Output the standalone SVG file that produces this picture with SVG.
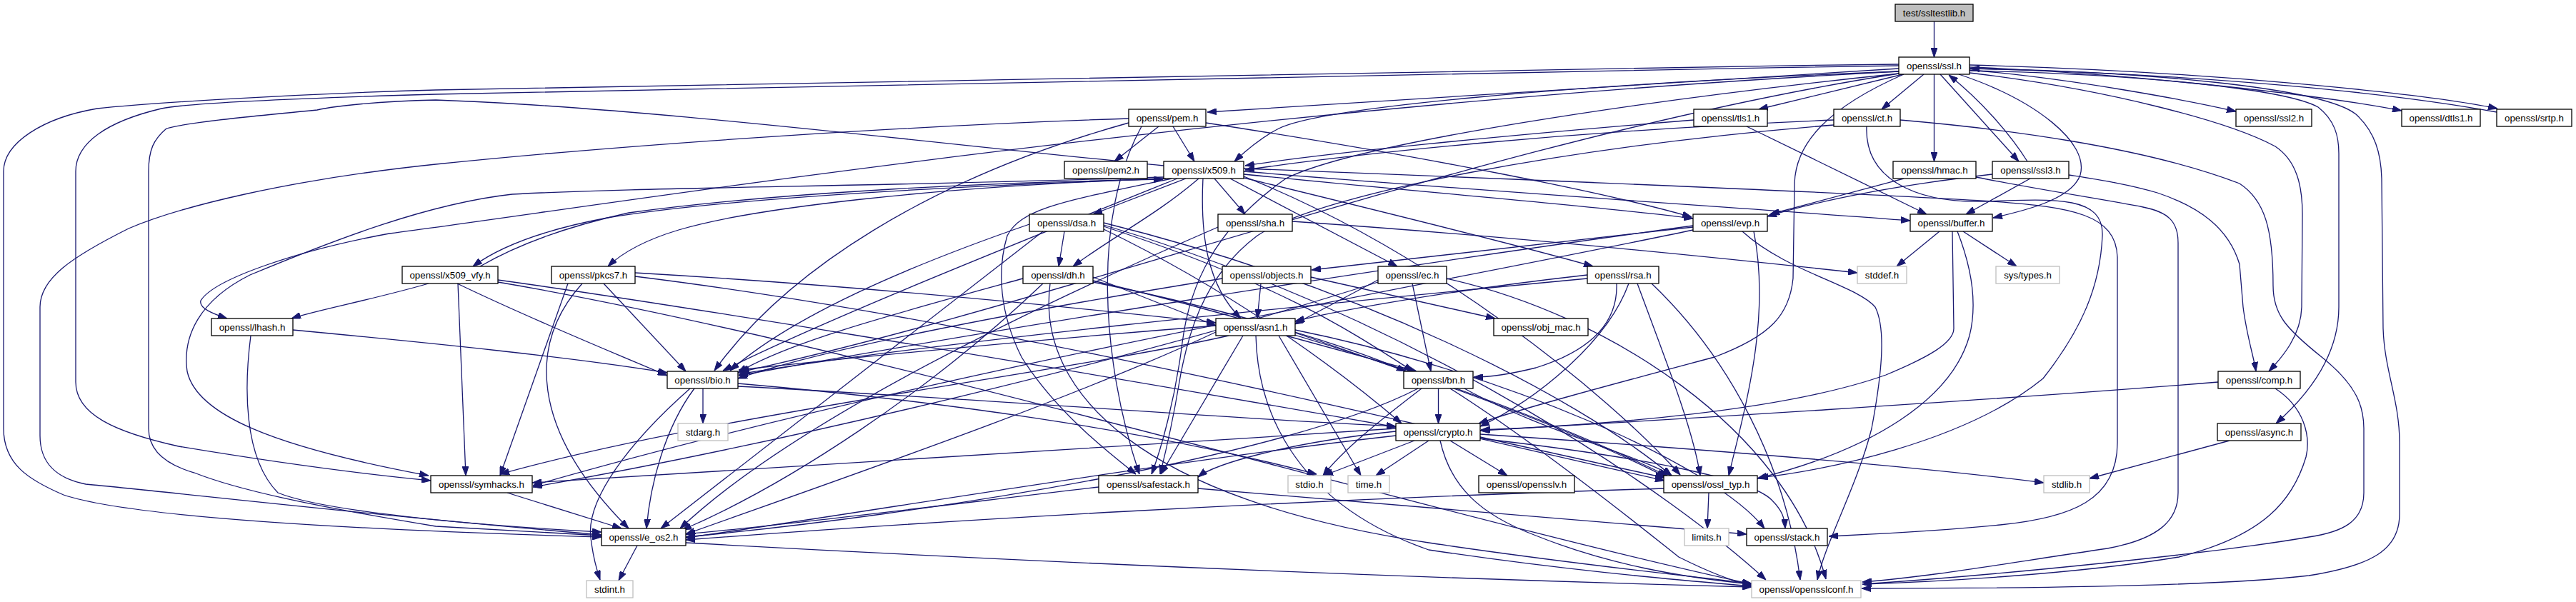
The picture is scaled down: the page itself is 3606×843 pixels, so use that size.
<svg xmlns="http://www.w3.org/2000/svg" width="3606" height="843" viewBox="0 0 3606 843">
<style>
.node rect{fill:#ffffff;stroke:#000000;stroke-width:1.3}
.node.sys rect{stroke:#bfbfbf}
.node.root rect{fill:#bfbfbf}
.node text{font-family:"Liberation Sans",Arial,sans-serif;font-size:13.33px;text-anchor:middle;fill:#000000}
#edges path{fill:none;stroke:#191970;stroke-width:1.3;marker-end:url(#ah)}
</style>
<defs>
<marker id="ah" viewBox="0 0 13 9" refX="13" refY="4.5" markerWidth="13" markerHeight="9" orient="auto" markerUnits="userSpaceOnUse"><path d="M0,0 L13,4.5 L0,9 z" fill="#191970" stroke="#191970" stroke-width="1"/></marker>
</defs>
<rect x="0" y="0" width="3606" height="843" fill="#ffffff"/>
<g id="edges">
<path d="M2707.5,30 L2707.5,80"/>
<path d="M2664,104 L2462,153"/>
<path d="M2693,104 L2634,153"/>
<path d="M2707.5,104 L2707.5,226"/>
<path d="M2716,104 L2826,226"/>
<path d="M2838,226 C2812,185 2772,140 2728,105"/>
<path d="M2742,104 C2850,140 2925,200 2912,245 C2900,280 2830,296 2790,305"/>
<path d="M2757,98 C2900,110 3060,140 3130,156"/>
<path d="M2757,94 C3000,104 3260,135 3362,155"/>
<path d="M2757,91 C3100,100 3400,132 3496,152"/>
<path d="M3495,157 C3360,132 3100,104 2758,96"/>
<path d="M2757,102 C2950,125 3120,170 3185,205 C3215,225 3223,260 3223,300 L3222,430 C3221,470 3195,500 3176,520"/>
<path d="M2757,99 C3000,104 3200,125 3245,150 C3268,168 3274,190 3274,215 L3274,430 C3274,490 3240,545 3186,593"/>
<path d="M2757,96 C3000,100 3250,122 3298,160 C3325,185 3333,215 3334,250 L3336,460 C3338,520 3359,560 3359,620 L3359,720 C3359,770 3320,792 3232,806 C3100,822 2800,824 2606,824"/>
<path d="M2658,96 L1690,157"/>
<path d="M2658,100 C2200,118 1850,150 1790,180 C1765,193 1745,210 1728,226"/>
<path d="M2658,103 C2100,190 1500,420 1036,521"/>
<path d="M2658,100 C1700,150 900,280 545,327 C420,350 300,390 281,421 C278,432 300,440 318,446"/>
<path d="M2658,90 C1800,100 900,118 610,126 C400,132 200,145 136,152 C60,165 5,200 5,240 L5,600 C5,650 40,672 89,693 C200,730 600,745 842,752"/>
<path d="M2658,92 C1800,105 900,125 610,132 C400,138 260,145 226,152 C150,170 106,200 106,240 L106,535 C106,580 160,605 250,625 C400,650 520,665 603,673"/>
<path d="M2658,103 C2300,140 1900,200 1800,250 C1700,320 1665,400 1655,480 C1645,560 1625,630 1612,664"/>
<path d="M2665,104 C2560,150 2512,200 2512,260 L2510,390 C2505,440 2480,470 2400,500 C2250,540 2120,575 2070,593"/>
<path d="M2445,177 L2697,300"/>
<path d="M2371,168 C2100,190 1850,215 1743,232"/>
<path d="M2567,168 C2200,183 1900,215 1743,238"/>
<path d="M2567,175 C2200,205 1850,270 1760,330 C1680,390 1660,480 1650,540 C1640,600 1630,640 1624,664"/>
<path d="M2660,168 C2800,180 3000,205 3135,257 C3170,280 3182,320 3182,400 C3182,440 3200,460 3250,500 C3300,540 3309,570 3309,600 L3309,690 C3309,730 3280,745 3232,752 C3100,775 2800,805 2607,818"/>
<path d="M2613,177 C2610,250 2680,285 2780,282 C2880,278 2945,275 2943,330 C2940,400 2915,460 2860,530 C2750,620 2550,660 2462,669"/>
<path d="M2665,250 L2478,300"/>
<path d="M2766,248 C2850,265 2950,280 3000,290 C3035,297 3049,310 3049,340 L3049,690 C3049,730 3020,755 2950,768 C2800,790 2700,808 2607,815"/>
<path d="M2896,245 C2940,252 2980,258 3020,270 C3080,290 3120,320 3135,370 L3140,430 C3145,470 3155,500 3158,520"/>
<path d="M2842,250 L2752,300"/>
<path d="M2789,244 C2650,260 2550,280 2474,303"/>
<path d="M2370,318 L1836,378"/>
<path d="M2439,324 C2500,380 2600,400 2625,430 C2640,460 2635,520 2620,600 C2600,680 2555,760 2544,812"/>
<path d="M2455,324 C2480,450 2440,580 2420,666"/>
<path d="M2370,322 C2000,400 1300,520 746,680"/>
<path d="M2370,316 C1900,380 1400,460 1034,526"/>
<path d="M2715,324 L2655,373"/>
<path d="M2748,324 L2823,373"/>
<path d="M2733,324 L2735,460 C2735,480 2700,500 2640,525 C2500,575 2250,595 2073,602"/>
<path d="M2740,324 C2762,380 2767,430 2757,470 C2732,560 2620,630 2460,670"/>
<path d="M1622,177 L1560,226"/>
<path d="M1642,177 L1672,226"/>
<path d="M1580,166 C1300,175 900,200 610,230 C400,252 250,290 180,320 C100,360 56,390 56,430 L56,610 C56,650 80,670 120,678 C250,690 500,720 842,749"/>
<path d="M1580,172 C1300,250 1100,380 1000,519"/>
<path d="M1598,177 C1530,300 1540,500 1595,664"/>
<path d="M1688,172 C2000,220 2250,270 2368,304"/>
<path d="M1629,232 C1300,200 900,150 610,140 C530,142 470,148 444,154 C330,165 260,172 233,180 C215,195 208,210 208,240 L208,600 C208,630 230,650 272,662 C330,685 428,707 610,737 L842,750"/>
<path d="M1741,247 C2000,350 2250,550 2352,665"/>
<path d="M1629,248 C1200,262 900,262 717,272 C600,285 470,335 350,385 C280,420 255,470 262,520 C275,580 380,625 600,666"/>
<path d="M1648,250 C1400,350 1150,450 1012,519"/>
<path d="M1741,236 C2100,250 2600,270 2790,282 C2900,290 2962,300 2964,360 L2964,620 C2964,700 2900,725 2800,735 C2700,745 2620,748 2560,751"/>
<path d="M1684,250 C1680,330 1690,400 1737,446"/>
<path d="M1722,250 L1956,373"/>
<path d="M1741,249 C1950,300 2150,350 2230,373"/>
<path d="M1660,250 L1530,300"/>
<path d="M1678,250 C1620,300 1560,330 1502,373"/>
<path d="M1700,250 L1743,300"/>
<path d="M1632,250 C1300,262 1000,280 850,305 C760,322 700,345 662,373"/>
<path d="M1629,250 C1300,262 1050,292 950,322 C900,337 870,355 851,373"/>
<path d="M1741,240 C2100,270 2500,295 2674,309"/>
<path d="M1741,244 C2000,270 2250,290 2370,306"/>
<path d="M1640,250 C1500,280 1430,290 1410,330 C1395,380 1400,440 1430,500 C1480,580 1560,640 1590,664"/>
<path d="M672,373 C720,345 790,318 880,298 C1100,268 1400,255 1628,251"/>
<path d="M600,397 C520,420 440,435 408,446"/>
<path d="M640,397 C750,450 850,490 934,526"/>
<path d="M641,397 L652,666"/>
<path d="M697,392 C900,420 1400,500 1954,598"/>
<path d="M697,395 C1200,480 2000,720 2452,818"/>
<path d="M889,382 C1200,400 1500,430 1702,452"/>
<path d="M889,387 C1400,450 2000,600 2330,673"/>
<path d="M845,397 L960,520"/>
<path d="M815,397 C740,480 740,600 880,740"/>
<path d="M795,397 L700,666"/>
<path d="M351,470 C342,540 340,640 389,690 C450,715 650,735 842,745"/>
<path d="M410,462 C600,480 800,500 934,522"/>
<path d="M1490,324 L1482,373"/>
<path d="M1545,317 C1800,400 1900,470 1978,520"/>
<path d="M1460,324 L925,740"/>
<path d="M1441,314 C1250,380 1100,450 1022,519"/>
<path d="M1545,321 C1750,420 1900,540 1962,593"/>
<path d="M1545,312 C1900,400 2200,550 2340,666"/>
<path d="M1545,315 C2000,450 2350,700 2472,812"/>
<path d="M1705,318 C1400,450 1100,600 952,740"/>
<path d="M1809,310 C2100,330 2400,360 2600,382"/>
<path d="M1432,390 C1250,440 1100,480 1033,522"/>
<path d="M1460,397 C1300,550 1100,680 955,742"/>
<path d="M1530,388 L1702,456"/>
<path d="M1530,393 C1900,480 2200,600 2335,667"/>
<path d="M1530,395 C1750,440 1900,490 1968,520"/>
<path d="M1470,397 C1450,550 1600,700 2000,760 C2200,790 2350,805 2452,817"/>
<path d="M1835,388 L2093,446"/>
<path d="M1711,390 C1400,440 1150,490 1033,530"/>
<path d="M1765,397 L1760,446"/>
<path d="M1929,392 L1812,454"/>
<path d="M1929,395 C1600,500 1100,620 746,682"/>
<path d="M1977,397 L2003,520"/>
<path d="M2025,390 C2250,440 2500,600 2556,811"/>
<path d="M2222,385 C2000,410 1850,440 1813,450"/>
<path d="M2222,390 C1800,430 1300,480 1034,524"/>
<path d="M2263,397 C2265,450 2230,490 2150,515 C2110,525 2080,528 2063,528"/>
<path d="M2280,397 C2250,480 2150,560 2072,597"/>
<path d="M2292,397 C2330,500 2370,600 2380,666"/>
<path d="M2312,397 C2420,500 2500,650 2520,812"/>
<path d="M1790,470 L1905,666"/>
<path d="M1702,465 C1500,560 1150,680 960,748"/>
<path d="M1758,470 C1760,560 1800,700 2000,770 C2200,800 2350,812 2452,821"/>
<path d="M1702,456 C1400,480 1200,500 1034,518"/>
<path d="M1813,462 C2100,520 2400,650 2470,740"/>
<path d="M1740,470 L1625,664"/>
<path d="M1720,470 C1500,520 1000,580 700,664"/>
<path d="M1813,466 C2000,530 2200,600 2332,668"/>
<path d="M1800,470 L1983,520"/>
<path d="M984,544 L984,593"/>
<path d="M972,544 C930,600 910,680 905,740"/>
<path d="M966,544 C880,620 820,700 827,753 C830,780 836,800 840,812"/>
<path d="M1033,537 C1300,560 1600,600 1843,664"/>
<path d="M1033,541 C1400,560 1700,585 1954,597"/>
<path d="M2013.5,544 L2013.5,593"/>
<path d="M1990,544 C1930,590 1880,630 1852,666"/>
<path d="M2050,544 C2150,600 2300,640 2340,666"/>
<path d="M1985,544 C1800,640 1300,720 960,752"/>
<path d="M2030,544 C2150,620 2300,740 2350,780 C2400,805 2430,815 2452,820"/>
<path d="M1980,617 L1853,666"/>
<path d="M2000,617 L1926,666"/>
<path d="M2030,617 L2110,666"/>
<path d="M2072,612 L2330,669"/>
<path d="M2072,608 C2400,630 2700,655 2861,676"/>
<path d="M2072,614 C2300,640 2450,670 2480,700 C2495,715 2498,725 2499,740"/>
<path d="M1954,604 C1800,620 1700,650 1677,668"/>
<path d="M1954,600 C1500,630 1000,660 745,676"/>
<path d="M1954,610 C1600,650 1200,720 960,753"/>
<path d="M2016,617 C2030,680 2070,720 2150,750 C2250,790 2350,808 2452,818"/>
<path d="M3105,535 C2800,560 2300,590 2072,603"/>
<path d="M3185,544 C3225,570 3235,610 3228,640 C3210,700 3170,750 3050,780 C2900,805 2700,815 2607,818"/>
<path d="M3121,617 L2925,670"/>
<path d="M710,690 L870,740"/>
<path d="M1677,684 C2000,710 2300,735 2445,748"/>
<path d="M1538,682 C1300,710 1100,735 960,748"/>
<path d="M2329,684 C1800,700 1300,730 960,756"/>
<path d="M2392,690 L2390,740"/>
<path d="M892,764 L866,813"/>
<path d="M960,760 C1500,790 2000,810 2452,822"/>
</g>
<g id="n_ssltestlib" class="node root"><rect x="2653" y="6" width="109" height="24"/><text x="2707.5" y="22.5">test/ssltestlib.h</text></g>
<g id="n_ssl" class="node"><rect x="2658" y="80" width="99" height="24"/><text x="2707.5" y="96.5">openssl/ssl.h</text></g>
<g id="n_tls1" class="node"><rect x="2371" y="153" width="103" height="24"/><text x="2422.5" y="169.5">openssl/tls1.h</text></g>
<g id="n_ct" class="node"><rect x="2567" y="153" width="93" height="24"/><text x="2613.5" y="169.5">openssl/ct.h</text></g>
<g id="n_hmac" class="node"><rect x="2650" y="226" width="116" height="24"/><text x="2708" y="242.5">openssl/hmac.h</text></g>
<g id="n_ssl3" class="node"><rect x="2789" y="226" width="107" height="24"/><text x="2842.5" y="242.5">openssl/ssl3.h</text></g>
<g id="n_evp" class="node"><rect x="2370" y="300" width="104" height="24"/><text x="2422" y="316.5">openssl/evp.h</text></g>
<g id="n_buffer" class="node"><rect x="2674" y="300" width="115" height="24"/><text x="2731.5" y="316.5">openssl/buffer.h</text></g>
<g id="n_stddef" class="node sys"><rect x="2600" y="373" width="69" height="24"/><text x="2634.5" y="389.5">stddef.h</text></g>
<g id="n_systypes" class="node sys"><rect x="2794" y="373" width="89" height="24"/><text x="2838.5" y="389.5">sys/types.h</text></g>
<g id="n_ssl2" class="node"><rect x="3130" y="153" width="106" height="24"/><text x="3183" y="169.5">openssl/ssl2.h</text></g>
<g id="n_dtls1" class="node"><rect x="3362" y="153" width="110" height="24"/><text x="3417" y="169.5">openssl/dtls1.h</text></g>
<g id="n_srtp" class="node"><rect x="3495" y="153" width="105" height="24"/><text x="3547.5" y="169.5">openssl/srtp.h</text></g>
<g id="n_pem" class="node"><rect x="1580" y="153" width="108" height="24"/><text x="1634" y="169.5">openssl/pem.h</text></g>
<g id="n_pem2" class="node"><rect x="1490" y="226" width="116" height="24"/><text x="1548" y="242.5">openssl/pem2.h</text></g>
<g id="n_x509" class="node"><rect x="1629" y="226" width="112" height="24"/><text x="1685" y="242.5">openssl/x509.h</text></g>
<g id="n_dsa" class="node"><rect x="1441" y="300" width="104" height="24"/><text x="1493" y="316.5">openssl/dsa.h</text></g>
<g id="n_sha" class="node"><rect x="1705" y="300" width="104" height="24"/><text x="1757" y="316.5">openssl/sha.h</text></g>
<g id="n_dh" class="node"><rect x="1432" y="373" width="98" height="24"/><text x="1481" y="389.5">openssl/dh.h</text></g>
<g id="n_objects" class="node"><rect x="1711" y="373" width="124" height="24"/><text x="1773" y="389.5">openssl/objects.h</text></g>
<g id="n_ec" class="node"><rect x="1929" y="373" width="96" height="24"/><text x="1977" y="389.5">openssl/ec.h</text></g>
<g id="n_rsa" class="node"><rect x="2222" y="373" width="100" height="24"/><text x="2272" y="389.5">openssl/rsa.h</text></g>
<g id="n_x509_vfy" class="node"><rect x="563" y="373" width="134" height="24"/><text x="630" y="389.5">openssl/x509_vfy.h</text></g>
<g id="n_pkcs7" class="node"><rect x="772" y="373" width="117" height="24"/><text x="830.5" y="389.5">openssl/pkcs7.h</text></g>
<g id="n_lhash" class="node"><rect x="296" y="446" width="114" height="24"/><text x="353" y="462.5">openssl/lhash.h</text></g>
<g id="n_asn1" class="node"><rect x="1702" y="446" width="111" height="24"/><text x="1757.5" y="462.5">openssl/asn1.h</text></g>
<g id="n_obj_mac" class="node"><rect x="2091" y="446" width="132" height="24"/><text x="2157" y="462.5">openssl/obj_mac.h</text></g>
<g id="n_bio" class="node"><rect x="934" y="520" width="99" height="24"/><text x="983.5" y="536.5">openssl/bio.h</text></g>
<g id="n_bn" class="node"><rect x="1965" y="520" width="97" height="24"/><text x="2013.5" y="536.5">openssl/bn.h</text></g>
<g id="n_comp" class="node"><rect x="3105" y="520" width="115" height="24"/><text x="3162.5" y="536.5">openssl/comp.h</text></g>
<g id="n_crypto" class="node"><rect x="1954" y="593" width="118" height="24"/><text x="2013" y="609.5">openssl/crypto.h</text></g>
<g id="n_stdarg" class="node sys"><rect x="949" y="593" width="70" height="24"/><text x="984" y="609.5">stdarg.h</text></g>
<g id="n_async" class="node"><rect x="3104" y="593" width="117" height="24"/><text x="3162.5" y="609.5">openssl/async.h</text></g>
<g id="n_symhacks" class="node"><rect x="603" y="666" width="142" height="24"/><text x="674" y="682.5">openssl/symhacks.h</text></g>
<g id="n_safestack" class="node"><rect x="1538" y="666" width="139" height="24"/><text x="1607.5" y="682.5">openssl/safestack.h</text></g>
<g id="n_stdio" class="node sys"><rect x="1803" y="666" width="60" height="24"/><text x="1833" y="682.5">stdio.h</text></g>
<g id="n_time" class="node sys"><rect x="1887" y="666" width="58" height="24"/><text x="1916" y="682.5">time.h</text></g>
<g id="n_opensslv" class="node"><rect x="2070" y="666" width="134" height="24"/><text x="2137" y="682.5">openssl/opensslv.h</text></g>
<g id="n_ossl_typ" class="node"><rect x="2329" y="666" width="131" height="24"/><text x="2394.5" y="682.5">openssl/ossl_typ.h</text></g>
<g id="n_stdlib" class="node sys"><rect x="2861" y="666" width="64" height="24"/><text x="2893" y="682.5">stdlib.h</text></g>
<g id="n_e_os2" class="node"><rect x="842" y="740" width="118" height="24"/><text x="901" y="756.5">openssl/e_os2.h</text></g>
<g id="n_limits" class="node sys"><rect x="2358" y="740" width="62" height="24"/><text x="2389" y="756.5">limits.h</text></g>
<g id="n_stack" class="node"><rect x="2445" y="740" width="113" height="24"/><text x="2501.5" y="756.5">openssl/stack.h</text></g>
<g id="n_stdint" class="node sys"><rect x="821" y="813" width="65" height="24"/><text x="853.5" y="829.5">stdint.h</text></g>
<g id="n_opensslconf" class="node sys"><rect x="2452" y="813" width="153" height="24"/><text x="2528.5" y="829.5">openssl/opensslconf.h</text></g>
</svg>
